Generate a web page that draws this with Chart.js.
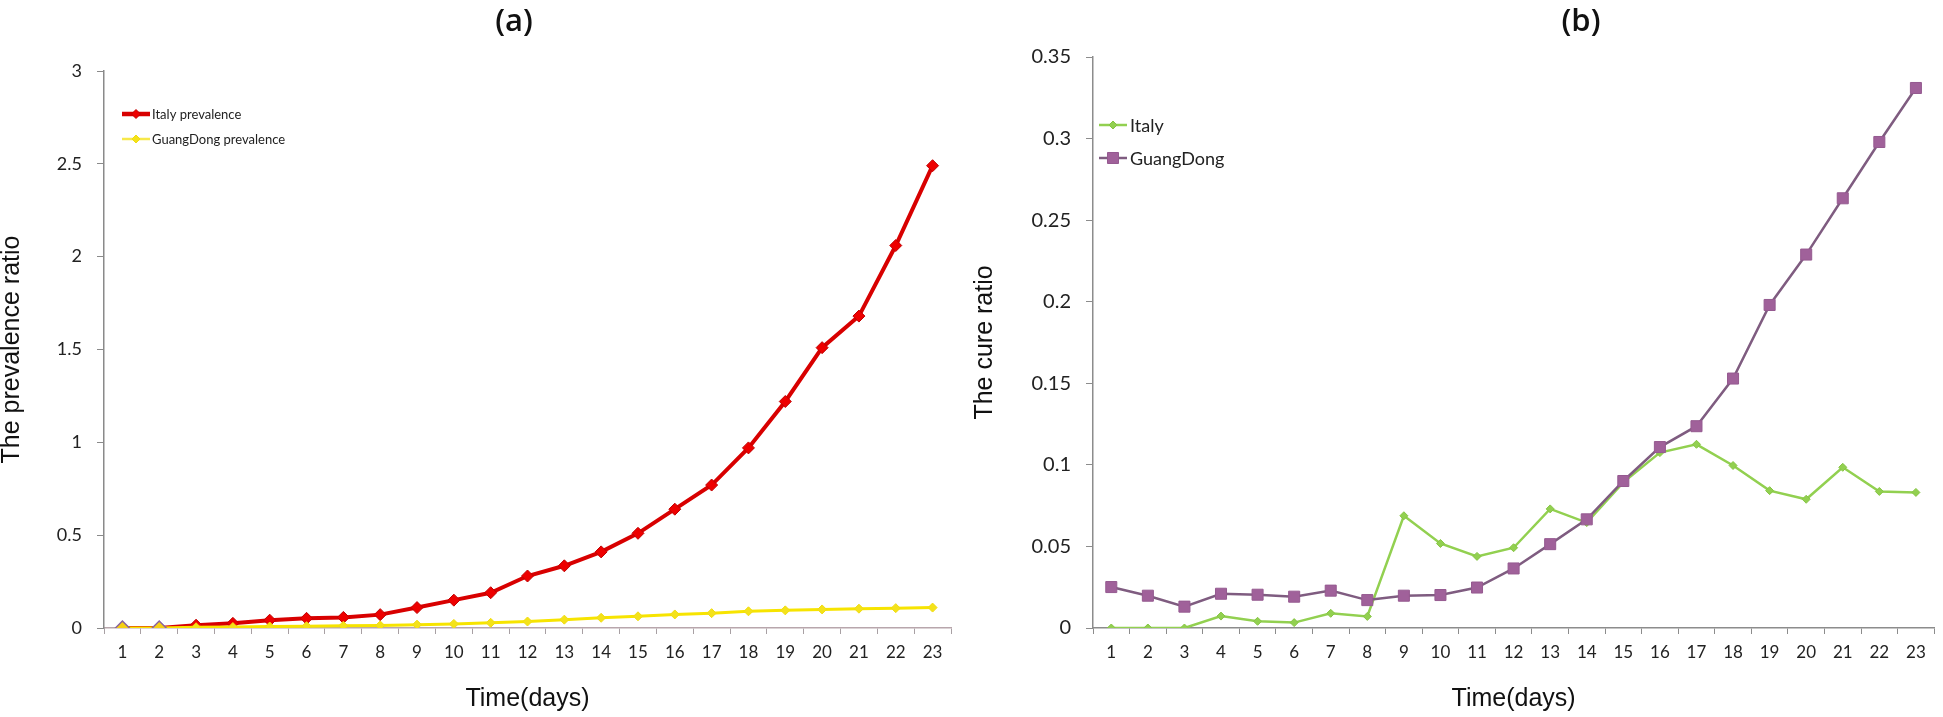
<!DOCTYPE html>
<html>
<head>
<meta charset="utf-8">
<script src="https://cdn.jsdelivr.net/npm/chart.js@4.4.1/dist/chart.umd.min.js"></script>
<style>
  html, body { margin: 0; padding: 0; background: #ffffff; }
  body { width: 1943px; height: 717px; position: relative; overflow: hidden; }
  .wrap { position: absolute; top: 0; height: 717px; }
  #wa { left: 0; width: 965px; }
  #wb { left: 960px; width: 983px; }
</style>
</head>
<body>
<div class="wrap" id="wa"><canvas id="ca"></canvas></div>
<div class="wrap" id="wb"><canvas id="cb"></canvas></div>
<script>
// ---------- data ----------
const days = ['1','2','3','4','5','6','7','8','9','10','11','12','13','14','15','16','17','18','19','20','21','22','23'];

// (a) prevalence ratio
const italyPrevalence = [0, 0, 0.015, 0.025, 0.042, 0.052, 0.057, 0.072, 0.11, 0.15, 0.19, 0.28, 0.335, 0.41, 0.51, 0.64, 0.77, 0.97, 1.22, 1.51, 1.68, 2.06, 2.49];
const guangdongPrevalence = [0, 0, 0.004, 0.005, 0.008, 0.010, 0.012, 0.014, 0.018, 0.022, 0.028, 0.035, 0.045, 0.055, 0.063, 0.073, 0.080, 0.090, 0.095, 0.100, 0.104, 0.107, 0.110];

// (b) cure ratio
const italyCure = [0, 0, 0, 0.0073, 0.0041, 0.0033, 0.009, 0.0071, 0.0688, 0.0518, 0.0439, 0.0492, 0.073, 0.0646, 0.0893, 0.1075, 0.1126, 0.0996, 0.0842, 0.0789, 0.0985, 0.0837, 0.0831];
const guangdongCure = [0.0251, 0.0198, 0.0131, 0.021, 0.0204, 0.0192, 0.0229, 0.0171, 0.0198, 0.0202, 0.0248, 0.0365, 0.0514, 0.0666, 0.0901, 0.1109, 0.1237, 0.1529, 0.198, 0.2289, 0.2634, 0.2979, 0.331];

const yTicksA = ['0','0.5','1','1.5','2','2.5','3'];
const yTicksB = ['0','0.05','0.1','0.15','0.2','0.25','0.3','0.35'];

// ---------- helpers ----------
function drawMarker(ctx, style, x, y, r, fill, stroke) {
  ctx.beginPath();
  if (style === 'rect') {
    const s = r * Math.SQRT1_2;
    ctx.rect(x - s, y - s, 2 * s, 2 * s);
  } else {
    ctx.moveTo(x, y - r); ctx.lineTo(x + r, y); ctx.lineTo(x, y + r); ctx.lineTo(x - r, y); ctx.closePath();
  }
  ctx.fillStyle = fill; ctx.fill();
  ctx.lineWidth = 1; ctx.strokeStyle = stroke; ctx.stroke();
}

const panelDeco = {
  id: 'panelDeco',
  afterDraw(chart, args, o) {
    const ctx = chart.ctx, a = chart.chartArea;
    ctx.save();
    // panel label
    ctx.font = o.titleFont;
    ctx.fillStyle = '#111';
    ctx.textAlign = 'center';
    ctx.textBaseline = 'middle';
    ctx.fillText(o.title, o.tx, o.ty);
    // legend
    ctx.font = o.legendFont;
    ctx.textAlign = 'left';
    o.items.forEach((it, i) => {
      const ds = chart.data.datasets[i];
      const x0 = a.left + o.dx, y = a.top + o.dy + i * o.gap;
      ctx.strokeStyle = it.line; ctx.lineWidth = it.lw;
      ctx.beginPath(); ctx.moveTo(x0, y); ctx.lineTo(x0 + o.len, y); ctx.stroke();
      drawMarker(ctx, it.style, x0 + o.len / 2, y, it.r, it.fill, it.stroke);
      ctx.fillStyle = '#222';
      ctx.fillText(ds.label, x0 + o.len + o.tgap, y + 1);
    });
    ctx.restore();
  }
};

const tickFont = (s) => ({ family: 'Lato, "Open Sans", sans-serif', size: s });
const titleFont = { family: '"Liberation Sans", Arial, sans-serif', size: 25, lineHeight: 1 };

// ---------- chart (a) ----------
new Chart(document.getElementById('ca'), {
  type: 'line',
  data: {
    labels: days,
    datasets: [
      {
        label: 'Italy prevalence',
        data: italyPrevalence,
        borderColor: '#d80000',
        borderWidth: 4,
        pointStyle: 'rectRot',
        pointRadius: 6,
        pointBackgroundColor: '#ee0000',
        pointBorderColor: '#c00000',
        pointBorderWidth: 1,
        tension: 0,
        order: 2
      },
      {
        label: 'GuangDong prevalence',
        data: guangdongPrevalence,
        borderColor: '#f7e400',
        borderWidth: 3,
        pointStyle: 'rectRot',
        pointRadius: c => c.dataIndex < 2 ? 7 : 4.5,
        pointBackgroundColor: c => c.dataIndex < 2 ? '#f6d014' : '#f4e21a',
        pointBorderColor: c => c.dataIndex < 2 ? '#8a64a0' : '#f0dc10',
        pointBorderWidth: c => c.dataIndex < 2 ? 1.5 : 1,
        tension: 0,
        order: 1
      }
    ]
  },
  options: {
    responsive: true,
    maintainAspectRatio: false,
    animation: false,
    layout: { padding: { left: 0, top: 71, right: 14, bottom: 0 } },
    plugins: {
      legend: { display: false },
      tooltip: { enabled: false },
      panelDeco: {
        title: '(a)', tx: 514, ty: 22,
        titleFont: '600 31px "Open Sans", Lato, sans-serif',
        legendFont: '13px Lato, "Open Sans", sans-serif',
        dx: 18, dy: 43, gap: 25, len: 28, tgap: 2,
        items: [
          { line: '#d80000', lw: 4.5, style: 'rectRot', r: 4.5, fill: '#ee0000', stroke: '#c00000' },
          { line: '#f7e84a', lw: 2.5, style: 'rectRot', r: 4, fill: '#f4e21a', stroke: '#f0dc10' }
        ]
      }
    },
    scales: {
      x: {
        type: 'category',
        offset: true,
        afterFit: s => { s.height = 89; },
        grid: { display: true, offset: true, drawOnChartArea: false, drawTicks: true, tickLength: 6, color: '#a8a0a4' },
        border: { display: true, color: '#b8a6ac', width: 1.5 },
        ticks: { autoSkip: false, maxRotation: 0, padding: 8, color: '#222', font: tickFont(17) },
        title: { display: true, text: 'Time(days)', color: '#111', font: titleFont, padding: { top: 0, bottom: 5 } }
      },
      y: {
        min: 0, max: 3,
        afterFit: s => { s.width = 104; },
        grid: { display: true, drawOnChartArea: false, drawTicks: true, tickLength: 7, color: '#8a8a8a' },
        border: { display: true, color: '#8a8a8a', width: 1.5 },
        ticks: { stepSize: 0.5, padding: 15, color: '#222', font: tickFont(18), callback: (v, i) => yTicksA[i] },
        title: { display: true, text: 'The prevalence ratio', color: '#111', font: titleFont, padding: { top: 0, bottom: 0 } }
      }
    }
  },
  plugins: [panelDeco]
});

// ---------- chart (b) ----------
new Chart(document.getElementById('cb'), {
  type: 'line',
  data: {
    labels: days,
    datasets: [
      {
        label: 'Italy',
        data: italyCure,
        borderColor: '#92d050',
        borderWidth: 2.5,
        pointStyle: 'rectRot',
        pointRadius: 4,
        pointBackgroundColor: '#92d050',
        pointBorderColor: '#86c444',
        pointBorderWidth: 1,
        tension: 0,
        order: 2
      },
      {
        label: 'GuangDong',
        data: guangdongCure,
        borderColor: '#7f5c80',
        borderWidth: 2.5,
        pointStyle: 'rect',
        pointRadius: 7.8,
        pointBackgroundColor: '#a0619a',
        pointBorderColor: '#955a90',
        pointBorderWidth: 1,
        tension: 0,
        order: 1
      }
    ]
  },
  options: {
    responsive: true,
    maintainAspectRatio: false,
    animation: false,
    layout: { padding: { left: 0, top: 57, right: 1, bottom: 0 } },
    plugins: {
      legend: { display: false },
      tooltip: { enabled: false },
      panelDeco: {
        title: '(b)', tx: 621, ty: 22,
        titleFont: '600 31px "Open Sans", Lato, sans-serif',
        legendFont: '18px Lato, "Open Sans", sans-serif',
        dx: 6, dy: 68, gap: 33, len: 28, tgap: 3,
        items: [
          { line: '#92d050', lw: 2.5, style: 'rectRot', r: 4, fill: '#92d050', stroke: '#86c444' },
          { line: '#7f5c80', lw: 2.5, style: 'rect', r: 7.8, fill: '#a0619a', stroke: '#955a90' }
        ]
      }
    },
    scales: {
      x: {
        type: 'category',
        offset: true,
        afterFit: s => { s.height = 89; },
        grid: { display: true, offset: true, drawOnChartArea: false, drawTicks: true, tickLength: 6, color: '#8c8c8c' },
        border: { display: true, color: '#8c8c8c', width: 1.5 },
        ticks: { autoSkip: false, maxRotation: 0, padding: 8, color: '#222', font: tickFont(17) },
        title: { display: true, text: 'Time(days)', color: '#111', font: titleFont, padding: { top: 0, bottom: 5 } }
      },
      y: {
        min: 0, max: 0.35,
        afterFit: s => { s.width = 133; },
        grid: { display: true, drawOnChartArea: false, drawTicks: true, tickLength: 7, color: '#8c8c8c' },
        border: { display: true, color: '#8c8c8c', width: 1.5 },
        ticks: { stepSize: 0.05, padding: 15, color: '#222', font: tickFont(20), callback: (v, i) => yTicksB[i] },
        title: { display: true, text: 'The cure ratio', color: '#111', font: titleFont, padding: { top: 13, bottom: 0 } }
      }
    }
  },
  plugins: [panelDeco]
});
</script>
</body>
</html>
